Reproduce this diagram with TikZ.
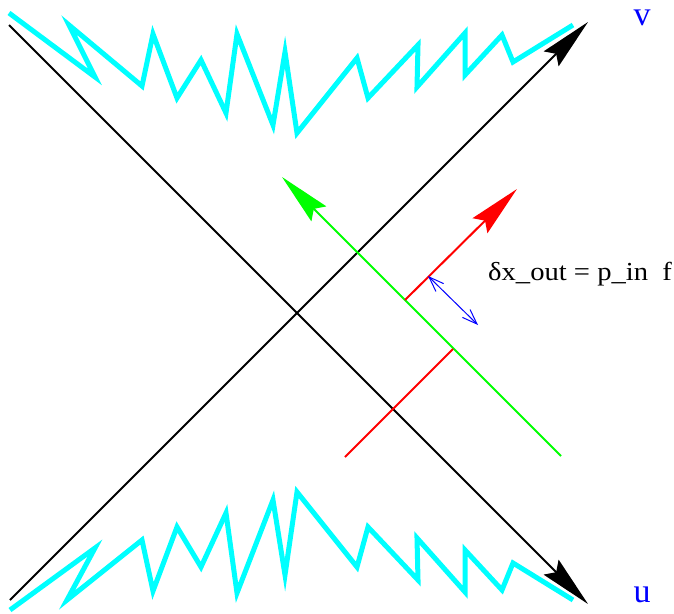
\documentclass[tikz,border=0pt]{standalone}
\usepackage{fontspec}
\setmainfont{Liberation Serif}
\usetikzlibrary{arrows.meta}
\definecolor{aqua}{RGB}{0,255,255}
\definecolor{pureblue}{RGB}{0,0,255}
\definecolor{puregreen}{RGB}{0,255,0}
\definecolor{purered}{RGB}{255,0,0}
\tikzset{
  bigtip/.style={-{Stealth[length=52pt,width=21pt,inset=7pt]}},
  axisline/.style={black,line width=2pt,bigtip},
  sing/.style={aqua,line width=5pt,line join=miter,miter limit=20},
  redline/.style={purered,line width=2pt},
  greenline/.style={puregreen,line width=2pt},
  measure/.style={pureblue,line width=1pt,{Straight Barb[length=15pt,width=11pt]}-{Straight Barb[length=15pt,width=11pt]}},
  axislabel/.style={pureblue,font=\fontsize{34}{38}\selectfont,inner sep=0pt,anchor=base},
  note/.style={font=\fontsize{26}{30}\selectfont,inner sep=0pt}
}
\begin{document}
\begin{tikzpicture}[x=1pt,y=-1pt]
\useasboundingbox (0,0) rectangle (674,613);
% black null axes
\coordinate (a1) at (9,25);
\coordinate (u) at (588,604);
\coordinate (a2) at (10,600);
\coordinate (v) at (588,22);
\draw[axisline] (a1) -- (u);
\draw[axisline] (a2) -- (v);
% singularities
\draw[sing] (9,13) -- (95,77) -- (69,25) -- (142,86) -- (153,34) -- (177,98) -- (201,60) -- (226,113) -- (237,34) -- (273,125) -- (285,52) -- (297,133) -- (357,58) -- (368,98) -- (418,45) -- (417,87) -- (465,33) -- (465,75) -- (502,35) -- (513,62) -- (573,25);
\draw[sing] (10,610) -- (95,548) -- (67,600) -- (142,540) -- (153,591) -- (177,527) -- (201,567) -- (226,513) -- (237,593) -- (273,500) -- (285,575) -- (297,492) -- (357,567) -- (368,527) -- (418,580) -- (417,538) -- (465,592) -- (465,550) -- (502,590) -- (513,563) -- (573,600);
% green ray
\coordinate (g0) at (561,456);
\coordinate (gtip) at (282,177);
\draw[greenline,bigtip] (g0) -- (gtip);
% red rays
\coordinate (r0) at (345,457);
\coordinate (r1) at (453,349);
\draw[redline] (r0) -- (r1);
\coordinate (r2) at (405,300);
\coordinate (rtip) at (517,189);
\draw[redline,bigtip] (r2) -- (rtip);
% measure arrow
\coordinate (m0) at (428,276);
\coordinate (m1) at (478,325);
\draw[measure] (m0) -- (m1);
% labels
\node[axislabel] (vl) at (642,25) {v};
\node[axislabel] (ul) at (642,602) {u};
\node[note,anchor=base west] (txt) at (488,280) {\scalebox{1.1}[1]{δx\_out = p\_in\ \ f}};
\end{tikzpicture}
\end{document}
